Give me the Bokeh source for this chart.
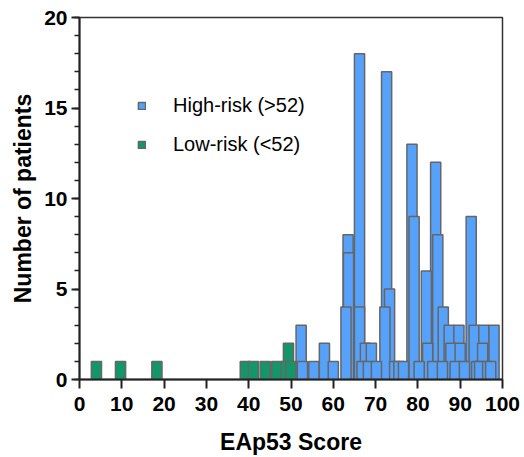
from bokeh.plotting import figure
from bokeh.models import Range1d, FixedTicker, Legend, LegendItem, ColumnDataSource
from bokeh.embed import file_html
from bokeh.resources import INLINE

# ---- data ----
high_scores = [52.4, 52.7, 55.4, 57.9, 60.0, 63.0, 63.5, 63.6, 66.2, 66.2, 67.6, 69.0,
               66.8, 68.3, 70.2, 72.2, 72.6, 73.3, 74.5, 75.5, 76.6, 78.6, 79.1, 80.3,
               82.0, 82.3, 83.5, 84.2, 84.7, 85.8, 86.0, 87.4, 87.8, 88.8, 89.7, 90.0,
               91.0, 92.6, 93.3, 93.9, 94.6, 95.3, 95.6, 96.5, 97.2, 98.0]
high_counts = [3, 1, 1, 2, 1, 4, 8, 7, 18, 4, 2, 2,
               1, 1, 1, 4, 17, 5, 1, 1, 1, 13, 9, 1,
               6, 2, 1, 12, 8, 1, 4, 3, 2, 1, 3, 2,
               1, 9, 3, 1, 1, 2, 3, 1, 1, 3]
low_scores = [4.0, 9.7, 18.3, 39.2, 41.1, 43.9, 46.6, 48.9, 49.4, 50.0]
low_counts = [1, 1, 1, 1, 1, 1, 1, 1, 2, 1]
x_ticks = list(range(0, 101, 10))
y_ticks = [0, 5, 10, 15, 20]
labels = ["High-risk (>52)", "Low-risk (<52)"]
x_title = "EAp53 Score"
y_title = "Number of patients"

BLUE = "#56a2fb"
GREEN = "#13976a"
EDGE = "#666666"
FONT = "Liberation Sans"


def sorted_source(xs, hs):
    pairs = sorted(zip(xs, hs), key=lambda t: -t[1])
    return ColumnDataSource(dict(x=[a for a, _ in pairs], top=[b for _, b in pairs]))


p = figure(width=524, height=457, x_range=Range1d(0, 100), y_range=Range1d(0, 20),
           output_backend="svg", toolbar_location=None,
           min_border_left=79, min_border_right=22, min_border_top=17, min_border_bottom=77)

p.xgrid.visible = False
p.ygrid.visible = False
p.outline_line_color = "#333333"
p.outline_line_width = 1.5
p.background_fill_color = "white"
p.border_fill_color = "white"

r_high = p.vbar(x="x", top="top", width=2.4, bottom=0, source=sorted_source(high_scores, high_counts),
                fill_color=BLUE, line_color=EDGE, line_width=1.5)
r_low = p.vbar(x="x", top="top", width=2.4, bottom=0, source=sorted_source(low_scores, low_counts),
               fill_color=GREEN, line_color=EDGE, line_width=1.5)

p.xaxis.ticker = FixedTicker(ticks=x_ticks, minor_ticks=[])
p.yaxis.ticker = FixedTicker(ticks=y_ticks, minor_ticks=list(range(0, 21)))

for ax in (p.xaxis[0], p.yaxis[0]):
    ax.axis_line_color = "#222222"
    ax.axis_line_width = 2
    ax.major_tick_line_color = "#222222"
    ax.major_tick_line_width = 2
    ax.minor_tick_line_color = "#222222"
    ax.minor_tick_line_width = 1.5
    ax.major_tick_in = 0
    ax.minor_tick_in = 0
    ax.major_label_text_font = FONT
    ax.major_label_text_font_style = "bold"
    ax.major_label_text_font_size = "21px"
    ax.major_label_text_color = "black"
    ax.axis_label_text_font = FONT
    ax.axis_label_text_font_style = "bold"
    ax.axis_label_text_font_size = "23px"
    ax.axis_label_text_color = "black"

p.xaxis.major_tick_out = 9
p.xaxis.major_label_standoff = 8
p.xaxis.axis_label = x_title
p.xaxis.axis_label_standoff = 15

p.yaxis.major_tick_out = 8
p.yaxis.minor_tick_out = 5
p.yaxis.major_label_standoff = 4
p.yaxis.axis_label = y_title
p.yaxis.axis_label_standoff = 5

legend = Legend(items=[LegendItem(label=labels[0], renderers=[r_high]),
                       LegendItem(label=labels[1], renderers=[r_low])],
                location=(58, 223), padding=0, margin=0, spacing=16,
                glyph_width=9, glyph_height=9, label_standoff=27,
                border_line_color=None, background_fill_alpha=0,
                label_text_font=FONT, label_text_font_size="20px", label_text_color="black")
p.add_layout(legend)

open("out.html", "w").write(file_html(p, INLINE))
